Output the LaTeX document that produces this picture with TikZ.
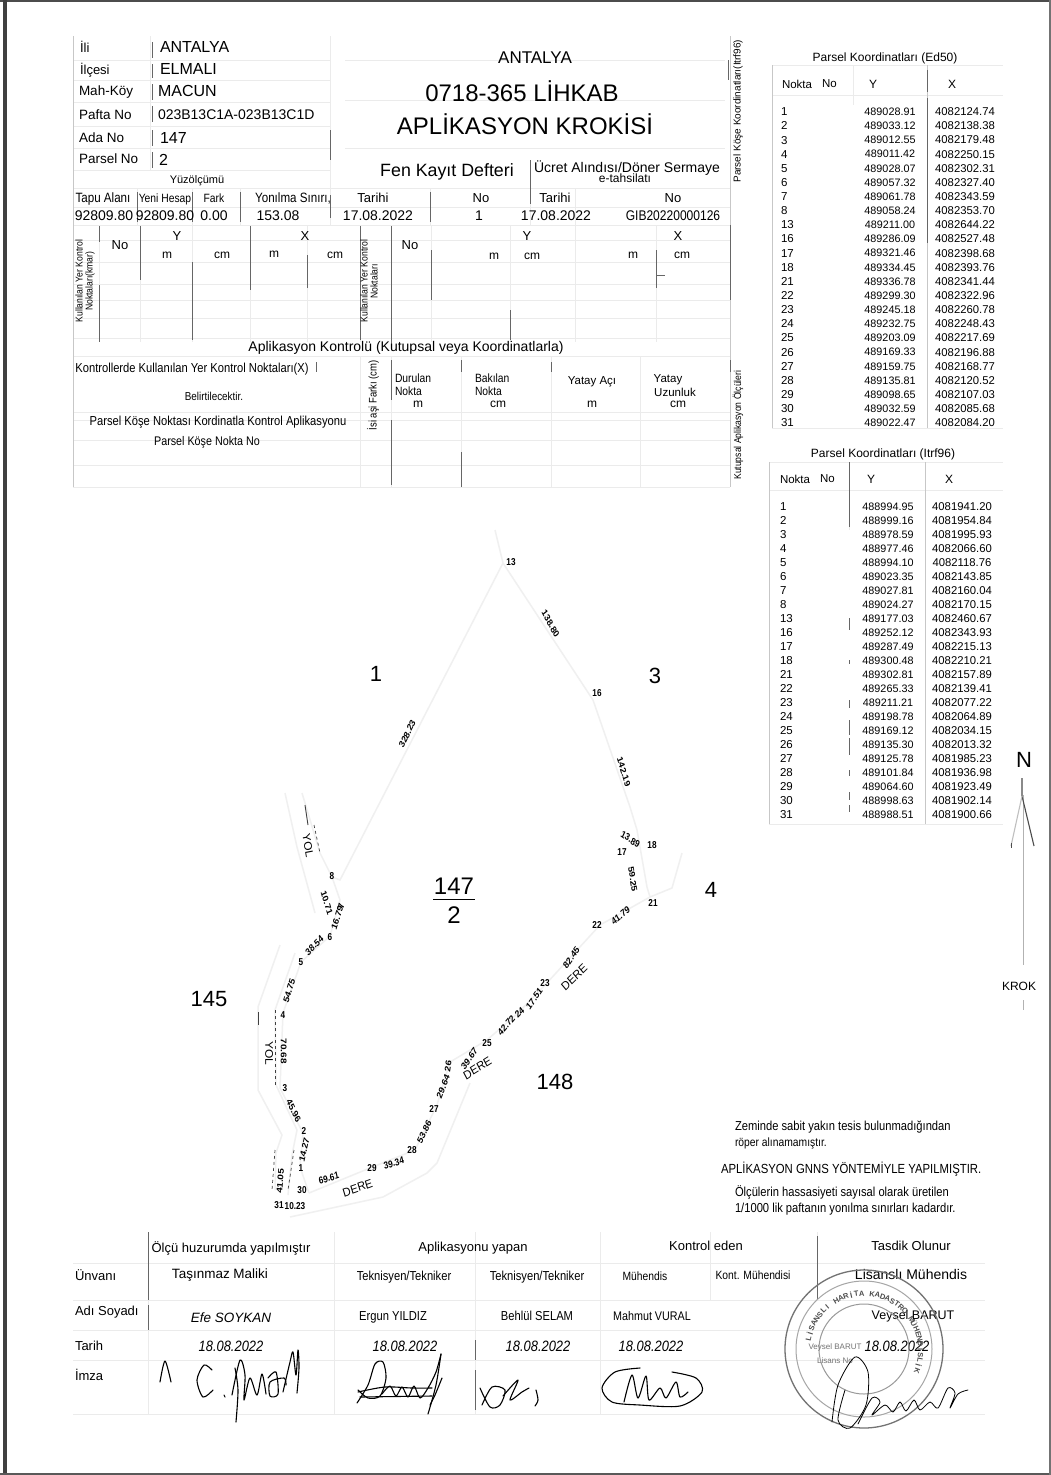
\documentclass[tikz,border=0pt]{standalone}
\usepackage{fontspec}
\setmainfont{Liberation Sans}
\newcounter{tn}
\newcommand\Tx[5][]{\stepcounter{tn}\node[txt,yshift=-1.2pt,font=\fontsize{#4}{#4}\selectfont,#1] (t\thetn) at (#2,#3) {\vphantom{Ay}#5};}
\tikzset{
 txt/.style={inner sep=0pt,outer sep=0pt,text=black,align=center},
 nar/.style={transform shape,xscale=.86},
 left txt/.style={anchor=west},
 ml/.style={transform shape,xscale=.82,text=black},
 faint/.style={draw=black!8,line width=1pt},
 edge/.style={draw=black!22,line width=1pt},
 hard/.style={draw=black!60,line width=.75pt},
 bound/.style={draw=black!6,line width=1.5pt},
 bdark/.style={draw=black!75,line width=.9pt},
 sig/.style={draw=black,line width=1.1pt,line cap=round,line join=round},
 ring/.style={draw=black!55,line width=1pt},
}
\begin{document}
\begin{tikzpicture}[x=1pt,y=-1pt]
\useasboundingbox (0,0) rectangle (1051,1475);
\fill[white] (0,0) rectangle (1051,1475);
% page frame
\draw[black!70,line width=1.5pt] (0,1) -- (1051,1);
\draw[black!75,line width=3.5pt] (5,0) -- (5,1475);
\draw[black!65,line width=1.5pt] (0,1474) -- (1051,1474);
\draw[black!55,line width=1.2pt] (1050,0) -- (1050,1475);
% form: faint rows
\foreach \yy in {60,80,102,126,148,170} \draw[faint] (73,\yy) -- (330,\yy);
\foreach \yy in {188,207,225} \draw[faint] (73,\yy) -- (730,\yy);
\foreach \yy in {60,100,148} \draw[faint] (345,\yy) -- (725,\yy);
\foreach \yy in {240,262,284,300,318,338,356,412,420,440,465,487} \draw[faint] (73,\yy) -- (730,\yy);
% form: faint columns
\draw[edge] (73,36) -- (73,487);
\foreach \xx in {150,330} \draw[faint] (\xx,36) -- (\xx,170);
\draw[faint] (330,170) -- (330,225);
\draw[edge] (730,36) -- (730,487);
\foreach \xx in {99,140,192,250,307,360,391,431,510,575,656}
  \draw[faint] (\xx,225) -- (\xx,342);
\foreach \xx in {360,391,461,551,640} \draw[faint] (\xx,356) -- (\xx,487);
\foreach \xx in {137,192,240,530,575} \draw[faint] (\xx,188) -- (\xx,225);
\draw[faint] (430,188) -- (430,225);
% form: dark pieces
\foreach \xx/\ya/\yb in {152/42/58,152/64/78,152/84/100,152/106/122,152/130/146,152/152/168,
 99/226/242,99/285/342,140/226/280,192/262/340,250/226/290,307/255/288,360/226/340,391/226/345,
 431/250/300,510/310/340,656/250/288,730/225/300,330/130/160,330/195/218,137/192/222,192/192/222,
 240/192/222,430/192/222,530/160/204,728/60/80,316/362/372,391/360/400,461/360/372,391/420/485,
 461/452/487,551/362/372,730/360/372}
  \draw[hard] (\xx,\ya) -- (\xx,\yb);
\draw[hard] (656,275) -- (665,275);
% form left block
\Tx[left txt]{80}{47}{13}{İli}
\Tx[left txt]{160}{47}{16}{ANTALYA}
\Tx[left txt]{80}{69}{13}{İlçesi}
\Tx[left txt]{160}{69}{16}{ELMALI}
\Tx[left txt]{79}{91}{13.5}{Mah-Köy}
\Tx[left txt]{158}{91}{16}{MACUN}
\Tx[left txt]{79}{115}{13.5}{Pafta No}
\Tx[left txt]{158}{115}{14}{023B13C1A-023B13C1D}
\Tx[left txt]{79}{138}{13.5}{Ada No}
\Tx[left txt]{160}{138}{16}{147}
\Tx[left txt]{79}{159}{13.5}{Parsel No}
\Tx[left txt]{159}{160}{16}{2}
\Tx{197}{179}{11}{Yüzölçümü}
% title
\Tx{535}{58}{17}{ANTALYA}
\Tx{522}{92}{24}{0718-365 LİHKAB}
\Tx{525}{125}{24}{APLİKASYON KROKİSİ}
\Tx{447}{171}{17.8}{Fen Kayıt Defteri}
\Tx{627}{167}{14}{Ücret Alındısı/Döner Sermaye}
\Tx{625}{178}{12}{e-tahsilatı}
\Tx[rotate=90]{738}{110}{10}{Parsel Köşe Koordinatları(Itrf96)}
% values row
\Tx[nar]{103}{198}{13.5}{Tapu Alanı}
\Tx[nar]{165}{198}{12}{Yeni Hesap}
\Tx[nar]{214}{198}{12}{Fark}
\Tx[nar]{293}{198}{13.5}{Yonılma Sınırı,}
\Tx{373}{198}{13}{Tarihi}
\Tx{481}{198}{13}{No}
\Tx{555}{198}{13}{Tarihi}
\Tx{673}{198}{13}{No}
\Tx{104}{216}{14}{92809.80}
\Tx{165}{216}{14}{92809.80}
\Tx{214}{216}{14}{0.00}
\Tx{278}{216}{14}{153.08}
\Tx{378}{216}{14}{17.08.2022}
\Tx{479}{216}{14}{1}
\Tx{556}{216}{14}{17.08.2022}
\Tx[nar]{673}{216}{14}{GIB20220000126}
% control points
\Tx[rotate=90,nar]{85}{280}{10}{Kullanılan Yer Kontrol\\Noktaları(kmar)}
\Tx[rotate=90,nar]{369}{280}{10}{Kullanılan Yer Kontrol\\Noktaları}
\Tx{120}{245}{13}{No}
\Tx{177}{236}{13}{Y}
\Tx{305}{236}{13}{X}
\Tx{167}{254}{12}{m}
\Tx{222}{254}{12}{cm}
\Tx{274}{253}{12}{m}
\Tx{335}{254}{12}{cm}
\Tx{410}{245}{13}{No}
\Tx{527}{236}{13}{Y}
\Tx{678}{236}{13}{X}
\Tx{494}{255}{12}{m}
\Tx{532}{255}{12}{cm}
\Tx{633}{254}{12}{m}
\Tx{682}{254}{12}{cm}
% aplikasyon
\Tx{406}{347}{14}{Aplikasyon Kontrolü (Kutupsal veya Koordinatlarla)}
\Tx[nar]{192}{368}{13}{Kontrollerde Kullanılan Yer Kontrol Noktaları(X)}
\Tx[nar]{214}{396}{11.5}{Belirtilecektir.}
\Tx[nar]{218}{421}{13}{Parsel Köşe Noktası Kordinatla Kontrol Aplikasyonu}
\Tx[nar]{207}{441}{12.5}{Parsel Köşe Nokta No}
\Tx[rotate=90,nar]{373}{394}{11}{İsi aşi Farkı (cm)}
\Tx[nar,left txt]{395}{378}{12}{Durulan}
\Tx[nar,left txt]{395}{391}{12}{Nokta}
\Tx[nar,left txt]{475}{378}{12}{Bakılan}
\Tx[nar,left txt]{475}{391}{12}{Nokta}
\Tx{592}{381}{11.5}{Yatay Açı}
\Tx{668}{379}{11.5}{Yatay}
\Tx{675}{392}{11.5}{Uzunluk}
\Tx{418}{403}{12}{m}
\Tx{498}{403}{12}{cm}
\Tx{592}{403}{12}{m}
\Tx{678}{403}{12}{cm}
\Tx[rotate=90,nar]{738}{424}{10}{Kutupsal Aplikasyon Ölçüleri}
% Ed50 table
\draw[faint] (772,65) -- (1003,65); \draw[faint] (772,95) -- (1003,95); \draw[faint] (772,428) -- (1003,428);
\draw[edge] (772,65) -- (772,428); \draw[faint] (853,65) -- (853,105); \draw[edge] (927,65) -- (927,428);
\draw[hard] (927,70) -- (927,92); \draw[hard] (927,98) -- (927,243);
\Tx{885}{57}{12}{Parsel Koordinatları (Ed50)}
\Tx[left txt]{782}{84}{11.5}{Nokta}
\Tx[left txt]{822}{84}{11.5}{No}
\Tx{873}{84}{12}{Y}
\Tx{952}{84}{12}{X}
\foreach \n/\yc/\xc [count=\i from 0] in {1/489028.91/4082124.74,2/489033.12/4082138.38,3/489012.55/4082179.48,4/489011.42/4082250.15,5/489028.07/4082302.31,6/489057.32/4082327.40,7/489061.78/4082343.59,8/489058.24/4082353.70,13/489211.00/4082644.22,16/489286.09/4082527.48,17/489321.46/4082398.68,18/489334.45/4082393.76,21/489336.78/4082341.44,22/489299.30/4082322.96,23/489245.18/4082260.78,24/489232.75/4082248.43,25/489203.09/4082217.69,26/489169.33/4082196.88,27/489159.75/4082168.77,28/489135.81/4082120.52,29/489098.65/4082107.03,30/489032.59/4082085.68,31/489022.47/4082084.20}{
 \pgfmathsetmacro\ry{111.7+14.14*\i}
 \Tx[left txt]{781}{\ry}{11.5}{\n}
 \Tx{890}{\ry}{10.8}{\yc}
 \Tx{965}{\ry}{11.3}{\xc}
}
% ITRF table
\draw[faint] (769,462) -- (1003,462); \draw[faint] (769,490) -- (1003,490); \draw[faint] (769,824) -- (1003,824);
\draw[edge] (769,462) -- (769,824); \draw[edge] (925,462) -- (925,824); \draw[faint] (849,462) -- (849,530);
\draw[hard] (849.5,462) -- (849.5,527);
\foreach \ya/\yb in {618/630,660/664,700/708,720/735,738/755,770/776,792/800,805/812}
  \draw[hard] (849.5,\ya) -- (849.5,\yb);
\Tx{883}{453}{12}{Parsel Koordinatları (Itrf96)}
\Tx[left txt]{780}{479}{11.5}{Nokta}
\Tx[left txt]{820}{479}{11.5}{No}
\Tx{871}{479}{12}{Y}
\Tx{949}{479}{12}{X}
\foreach \n/\yc/\xc [count=\i from 0] in {1/488994.95/4081941.20,2/488999.16/4081954.84,3/488978.59/4081995.93,4/488977.46/4082066.60,5/488994.10/4082118.76,6/489023.35/4082143.85,7/489027.81/4082160.04,8/489024.27/4082170.15,13/489177.03/4082460.67,16/489252.12/4082343.93,17/489287.49/4082215.13,18/489300.48/4082210.21,21/489302.81/4082157.89,22/489265.33/4082139.41,23/489211.21/4082077.22,24/489198.78/4082064.89,25/489169.12/4082034.15,26/489135.30/4082013.32,27/489125.78/4081985.23,28/489101.84/4081936.98,29/489064.60/4081923.49,30/488998.63/4081902.14,31/488988.51/4081900.66}{
 \pgfmathsetmacro\ry{506.7+14.01*\i}
 \Tx[left txt]{780}{\ry}{11.5}{\n}
 \Tx{888}{\ry}{10.8}{\yc}
 \Tx{962}{\ry}{11.3}{\xc}
}
% map boundaries
\draw[bound] (495,530) -- (503,563) -- (593,700) -- (630,807) -- (637,830) -- (647,887) -- (650,897);
\draw[bound] (503,563) -- (340,880) -- (332,877);
\draw[bound] (682,853) -- (672,888) -- (650,897) -- (600,925) -- (545,985) -- (517,1014) -- (487,1040) -- (450,1062) -- (437,1105) -- (415,1150) -- (370,1168) -- (309,1193);
\draw[bound] (470,1083) -- (437,1163) -- (427,1173) -- (383,1197) -- (290,1217);
\draw[bound] (285,793) -- (297,847) -- (315,913);
\draw[bound] (302,793) -- (320,853) -- (332,877) -- (340,900) -- (330,936) -- (301,962) -- (283,1013) -- (280,1088) -- (303,1133) -- (300,1167) -- (309,1193);
\draw[bound] (280,945) -- (258,1007) -- (258,1090) -- (282,1135) -- (276,1153) -- (275,1190);
\draw[bound] (295,953) -- (275,1010) -- (276,1085) -- (297,1130) -- (292,1155) -- (288,1195);
\draw[bdark] (305,805) -- (308,825);
\draw[bdark,dashed,line width=.7pt] (314,825) -- (320,853);
\draw[bdark] (258,1012) -- (258,1025);
\draw[bdark,dashed,line width=.7pt] (275,1010) -- (275,1085);
\draw[bdark,dashed,line width=.7pt] (275,1150) -- (272,1190);
\draw[bdark,dashed,line width=.7pt] (294,1150) -- (288,1190);
% map numbers
\tikzset{mlb/.style={ml,font=\fontsize{10}{10}\selectfont\bfseries}}
\foreach \xx/\yy/\ang/\lab in {
 511/562/0/13, 550/623/-57/138.80, 597/693/0/16, 623/771/-70/142.19, 408/733/60/328.23,
 630/839/-30/13.89, 622/852/0/17, 652/845/0/18, 632/878/-80/59.25, 653/903/0/21, 621/915/35/41.79, 597/925/0/22,
 572/957/50/82.45, 545/983/0/23, 535/998/50/17.51, 520/1012/40/24, 507/1025/45/42.72,
 487/1043/0/25, 470/1058/50/39.67, 449/1065/80/26, 444/1086/65/29.64, 434/1109/0/27, 425/1131/60/53.86,
 412/1150/0/28, 394/1163/15/39.34, 372/1168/0/29, 329/1178/15/69.61, 302/1190/0/30, 295/1206/0/10.23, 279/1205/0/31,
 281/1180/85/41.05, 301/1168/0/1, 305/1149/75/14.27, 304/1131/0/2, 293/1110/-60/45.96, 285/1088/0/3,
 283/1050/-90/70.68, 283/1015/0/4, 290/990/70/54.75, 301/962/0/5, 315/945/40/38.54, 330/937/0/6,
 338/917/70/16.79, 342/905/80/7, 326/902/-70/10.71, 332/876/0/8}{
 \Tx[mlb,rotate=\ang]{\xx}{\yy}{10}{\lab}
}
\tikzset{mlc/.style={transform shape,xscale=.92,text=black}}
\foreach \xx/\yy/\ang/\lab in {307/845/-80/YOL, 268/1052/-90/YOL, 358/1188/18/DERE, 478/1068/30/DERE, 575/977/42/DERE}{
 \Tx[mlc,rotate=\ang]{\xx}{\yy}{12}{\lab}
}
% parcel numbers
\Tx{376}{675}{22}{1}
\Tx{655}{677}{22}{3}
\Tx{711}{891}{22}{4}
\Tx{209}{1000}{22}{145}
\Tx{555}{1083}{22}{148}
\Tx{454}{888}{24}{147}
\draw[black,line width=1.2pt] (433,899.5) -- (475,899.5);
\Tx{454}{916}{24}{2}
% north
\Tx{1024}{761}{22}{N}
\draw[black!30,line width=1pt] (1023,795) -- (1023,965);
\draw[black!30,line width=1pt] (1023,1000) -- (1023,1010);
\draw[black!70,line width=1.1pt] (1022,778) -- (1022,796) -- (1034,846);
\draw[black!25,line width=1.1pt] (1022,796) -- (1011,846);
\draw[black!70,line width=1pt] (1011,843) -- (1011,848);
\Tx{1019}{986}{12}{KROK}
% notes
\Tx[left txt,nar]{735}{1126}{13}{Zeminde sabit yakın tesis bulunmadığından}
\Tx[left txt,nar]{735}{1142}{12}{röper alınamamıştır.}
\Tx[left txt,nar]{721}{1168}{13.2}{APLİKASYON GNNS YÖNTEMİYLE YAPILMIŞTIR.}
\Tx[left txt,nar]{735}{1191}{13}{Ölçülerin hassasiyeti sayısal olarak üretilen}
\Tx[left txt,nar]{735}{1208}{13}{1/1000 lik paftanın yonılma sınırları kadardır.}
% signature table
\foreach \yy in {1263,1300,1330,1360,1414} \draw[faint] (73,\yy) -- (985,\yy);
\foreach \xx/\yb in {148/1415,334/1415,475/1415,600/1415,710/1300,817/1300}
  \draw[faint] (\xx,1232) -- (\xx,\yb);
\foreach \xx/\ya/\yb in {148/1232/1300,148/1305/1330,817/1236/1300,475/1340/1360,475/1370/1410}
  \draw[hard] (\xx,\ya) -- (\xx,\yb);
\Tx{231}{1247}{13}{Ölçü huzurumda yapılmıştır}
\Tx{473}{1247}{13}{Aplikasyonu yapan}
\Tx{706}{1246}{13}{Kontrol eden}
\Tx{911}{1246}{13}{Tasdik Olunur}
\Tx[left txt]{75}{1275}{13}{Ünvanı}
\Tx[left txt]{75}{1311}{13}{Adı Soyadı}
\Tx[left txt]{75}{1346}{13}{Tarih}
\Tx[left txt]{75}{1375}{13}{İmza}
\Tx{220}{1274}{13.5}{Taşınmaz Maliki}
\Tx[nar]{404}{1276}{13}{Teknisyen/Tekniker}
\Tx[nar]{537}{1276}{13}{Teknisyen/Tekniker}
\Tx[nar]{645}{1276}{12}{Mühendis}
\Tx[nar]{753}{1275}{12}{Kont. Mühendisi}
\Tx{911}{1275}{14}{Lisanslı Mühendis}
\Tx{231}{1318}{13.5}{\itshape Efe SOYKAN}
\Tx[nar]{393}{1316}{13}{Ergun YILDIZ}
\Tx[nar]{537}{1316}{13}{Behlül SELAM}
\Tx[nar]{652}{1316}{12.5}{Mahmut VURAL}
\Tx{913}{1315}{12.5}{Veysel BARUT}
\foreach \xx in {231,405,538,651,897}
 \Tx[nar]{\xx}{1347}{15}{\itshape 18.08.2022}
% stamp
\coordinate (stampc) at (864,1349);
\draw[ring,line width=1.3pt] (stampc) circle[radius=79pt];
\draw[ring,black!35] (stampc) circle[radius=68pt];
\draw[ring,black!40] (stampc) circle[radius=45pt];
\foreach \c [count=\i from 0] in {L,İ,S,A,N,S,L,I,{ },H,A,R,İ,T,A,{ },K,A,D,A,S,T,R,O,{ },M,Ü,H,E,N,D,İ,S,L,İ,K}{
 \pgfmathsetmacro\ang{168-5.4*\i}
 \pgfmathsetmacro\px{864+56*cos(\ang)}
 \pgfmathsetmacro\py{1349-56*sin(\ang)}
 \pgfmathsetmacro\rt{\ang-90}
 \Tx[rotate=\rt,transform shape,text=black!70]{\px}{\py}{7.5}{\bfseries\c}
}
\Tx[text=black!55]{835}{1346}{8}{Veysel BARUT}
\Tx[text=black!55]{835}{1360}{8}{Lisans No}
% signatures
\draw[sig] plot[smooth] coordinates {(160,1382)(165,1361)(171,1382)};
\draw[sig] plot[smooth] coordinates {(212,1370)(204,1365)(197,1380)(203,1397)(213,1390)};
\draw[sig] (224,1395) -- (225,1397);
\draw[sig] plot[smooth] coordinates {(235,1368)(238,1390)(236,1422)};
\draw[sig] plot[smooth] coordinates {(232,1395)(240,1360)(245,1375)(244,1400)(250,1378)(257,1395)(262,1374)(266,1394)};
\draw[sig] plot[smooth] coordinates {(268,1378)(276,1372)(278,1394)(270,1396)(270,1382)(284,1378)(286,1385)};
\draw[sig] plot[smooth] coordinates {(283,1392)(290,1362)(293,1352)(296,1375)(298,1350)(299,1368)(297,1393)};
\draw[sig] plot[smooth] coordinates {(357,1403)(368,1385)(375,1364)(383,1362)(386,1378)(380,1396)(368,1398)(358,1390)};
\draw[sig] plot[smooth] coordinates {(358,1392)(385,1387)(412,1388)(432,1388)};
\draw[sig] (360,1397) -- (432,1396);
\draw[sig] plot[smooth] coordinates {(382,1394)(390,1386)(396,1396)(402,1387)(408,1397)(414,1386)(420,1398)(428,1388)(436,1372)(441,1354)};
\draw[sig] plot[smooth] coordinates {(441,1354)(436,1385)(428,1414)};
\draw[sig] plot[smooth] coordinates {(442,1378)(435,1395)(430,1405)};
\draw[sig] plot[smooth] coordinates {(480,1388)(490,1407)(500,1405)(505,1390)(492,1387)(482,1405)};
\draw[sig] plot[smooth] coordinates {(503,1396)(518,1380)(510,1400)(522,1392)(529,1388)};
\draw[sig] plot[smooth] coordinates {(536,1390)(538,1400)(535,1406)};
\draw[sig] plot[smooth] coordinates {(640,1368)(615,1372)(602,1388)(612,1402)(640,1405)(680,1406)(702,1392)(696,1378)(672,1372)};
\draw[sig] plot[smooth] coordinates {(624,1402)(632,1375)(638,1398)(646,1376)(649,1400)(660,1388)(666,1398)(676,1382)(680,1397)(688,1392)};
\draw[sig,line width=.8pt] plot[smooth] coordinates {(832,1422)(838,1385)(855,1357)(868,1372)(866,1405)(850,1428)(838,1420)(845,1390)};
\draw[sig,line width=.8pt] plot[smooth] coordinates {(858,1424)(872,1398)(880,1402)(872,1415)(885,1405)(893,1412)(900,1402)(906,1411)(914,1400)(920,1410)(930,1402)(938,1408)(948,1388)(955,1393)(950,1408)(958,1394)(968,1390)};
\end{tikzpicture}
\end{document}
